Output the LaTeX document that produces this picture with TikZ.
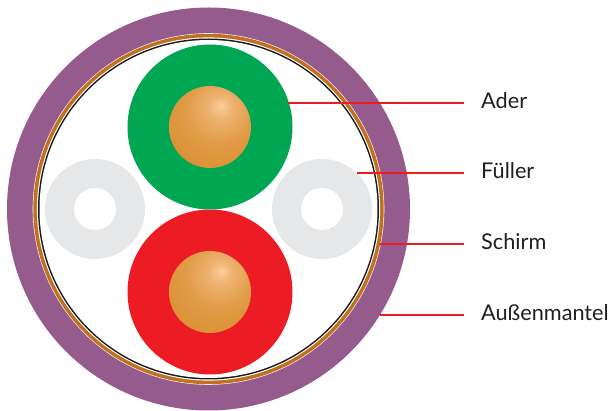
\documentclass[tikz,border=0pt]{standalone}
\usepackage{fontspec}
\setmainfont{Lato}
\definecolor{mantel}{HTML}{955B8C}
\definecolor{kupfer}{HTML}{C1701F}
\definecolor{gruen}{HTML}{00A651}
\definecolor{rot}{HTML}{ED1C24}
\definecolor{fuell}{HTML}{E6E7E8}
\definecolor{schrift}{HTML}{231F20}
\definecolor{kerna}{HTML}{FBCF9C}
\definecolor{kernb}{HTML}{EEB372}
\definecolor{kernc}{HTML}{E19C48}
\definecolor{kernd}{HTML}{D98A28}
\definecolor{kerne}{HTML}{C97812}
\pgfdeclareradialshading{kern}{\pgfpoint{7bp}{13bp}}{%
  color(0bp)=(kerna);
  color(7bp)=(kernb);
  color(20bp)=(kernc);
  color(45bp)=(kernd);
  color(65bp)=(kerne);
  color(100bp)=(kerne)}
\tikzset{
  leader/.style={draw=rot, line width=1.2pt},
  schild/.style={anchor=west, inner xsep=17pt, inner ysep=0pt, text=schrift, font=\fontsize{21.7}{26}\selectfont, text height=15pt, text depth=4pt}
}

\begin{document}
\begin{tikzpicture}[x=1pt,y=1pt]
\useasboundingbox (0,0) rectangle (611,-411);

\coordinate (M) at (208.5,-209);
\coordinate (G) at (210,-127);
\coordinate (R) at (210,-292);
\coordinate (F1) at (95,-209);
\coordinate (F2) at (322,-209);

% Mantel, Schirm
\fill [mantel] (M) circle (201.5);
\fill [white] (M) circle (175.8);
\fill [kupfer] (M) circle (175.2);
\fill [white] (M) circle (171.6);
\fill [black!90] (M) circle (170.5);
\fill [white] (M) circle (169);

% Fueller
\foreach \f in {F1,F2} {
  \fill [fuell] (\f) circle (50);
  \fill [white] (\f) circle (21);
}

% Adern
\fill [gruen] (G) circle (82.5);
\fill [rot] (R) circle (82.5);
\shade [shading=kern] (G) circle (41);
\shade [shading=kern] (R) circle (41);

\coordinate (A1) at (288,-103);
\coordinate (A2) at (357,-173);
\coordinate (A3) at (380,-244);
\coordinate (A4) at (380,-315);

\node (L1) at (464,-103) [schild] {Ader};
\node (L2) at (464,-173) [schild] {Füller};
\node (L3) at (464,-244) [schild] {Schirm};
\node (L4) at (464,-315) [schild] {Außenmantel};

\draw [leader] (A1) -- (L1);
\draw [leader] (A2) -- (L2);
\draw [leader] (A3) -- (L3);
\draw [leader] (A4) -- (L4);
\end{tikzpicture}
\end{document}
